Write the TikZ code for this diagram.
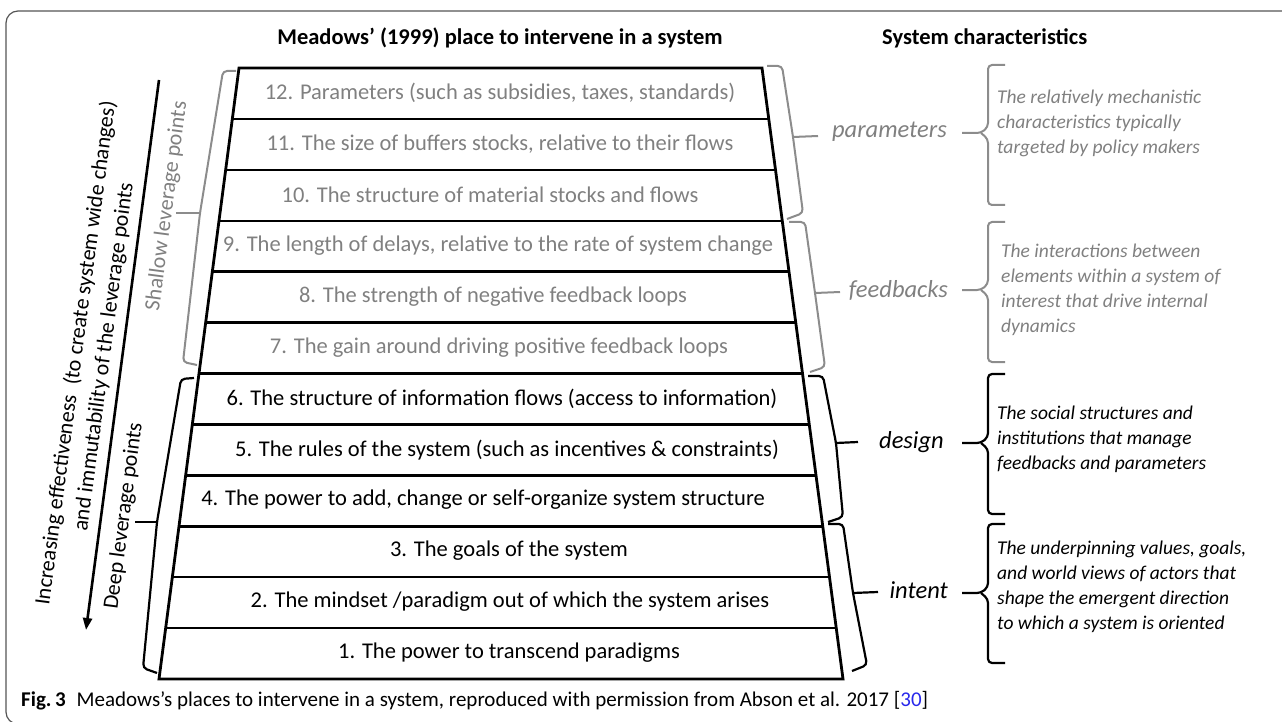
\documentclass[tikz,border=0pt]{standalone}
\usepackage{fontspec}
\setmainfont{Carlito}
\usetikzlibrary{arrows.meta}
\definecolor{lgray}{RGB}{128,128,128}
\definecolor{bgray}{RGB}{140,140,140}
\definecolor{framecol}{RGB}{85,85,85}
\definecolor{linkblue}{RGB}{40,40,235}
\tikzset{
  rowtxt/.style={font=\fontsize{22.5}{27}\selectfont, inner sep=0pt},
  rottxt/.style={font=\fontsize{22}{28}\selectfont, rotate=82.5, align=center, inner sep=0pt},
  labtxt/.style={font=\itshape\fontsize{24.5}{29}\selectfont, anchor=east, inner sep=0pt},
  desctxt/.style={font=\itshape\fontsize{19.5}{25}\selectfont, align=left, anchor=west, inner sep=0pt},
  headtxt/.style={font=\bfseries\fontsize{22.5}{26}\selectfont, inner sep=0pt},
  trap/.style={line width=2.8pt, line join=miter},
  sep/.style={line width=2.5pt},
  graybrace/.style={draw=bgray, line width=2pt, rounded corners=4pt},
  blackbrace/.style={draw=black, line width=2.2pt, rounded corners=4pt},
}
\begin{document}
\begin{tikzpicture}[x=1pt,y=-1pt]
\useasboundingbox (0,0) rectangle (1282,722);
\begin{scope}
\clip (0,0) rectangle (1282,722);
\draw[framecol, line width=1.2pt, rounded corners=12pt] (6,11) rectangle (1310,724);
\end{scope}

% headers
\node[headtxt] (h1) at (500,38) {Meadows’ (1999) place to intervene in a system};
\node[headtxt, anchor=west] (h2) at (882,38) {System characteristics};

% trapezoid
\draw[trap] (239,68) -- (762,68) -- (843,679) -- (159,679) -- cycle;
\foreach \k in {1,...,11}
  \draw[sep] (239-6.667*\k, 68+50.917*\k) -- (762+6.75*\k, 68+50.917*\k);

% row texts
\node[rowtxt, lgray] (r12) at (500, 93) {12. Parameters (such as subsidies, taxes, standards)};
\node[rowtxt, lgray] (r11) at (500,144) {11. The size of buffers stocks, relative to their flows};
\node[rowtxt, lgray] (r10) at (490,195) {10. The structure of material stocks and flows};
\node[rowtxt, lgray] (r9)  at (498,246) {9. The length of delays, relative to the rate of system change};
\node[rowtxt, lgray] (r8)  at (493,297) {8. The strength of negative feedback loops};
\node[rowtxt, lgray] (r7)  at (499,348) {7. The gain around driving positive feedback loops};
\node[rowtxt] (r6)  at (502,399) {6. The structure of information flows (access to information)};
\node[rowtxt] (r5)  at (507,450) {5. The rules of the system (such as incentives \& constraints)};
\node[rowtxt] (r4)  at (483,500) {4. The power to add, change or self-organize system structure};
\node[rowtxt] (r3)  at (509,551) {3. The goals of the system};
\node[rowtxt] (r2)  at (510,602) {2. The mindset /paradigm out of which the system arises};
\node[rowtxt] (r1)  at (509,653) {1. The power to transcend paradigms};

% left arrow and texts
\coordinate (atop) at (159,80);
\coordinate (abot) at (86,630);
\draw[line width=2.6pt, -{Triangle[length=12pt,width=9pt]}] (atop) -- (abot);
\node[rottxt] (inc) at (90,355) {Increasing effectiveness\ \ (to create system wide changes)\\and immutability of the leverage points};
\node[rottxt, lgray] (shallow) at (167,206) {Shallow leverage points};
\node[rottxt] (deep) at (124,516) {Deep leverage points};

% left braces
\draw[graybrace] (236,71) -- (223,71) -- (200,213) -- (183,362) -- (197,365);
\draw[graybrace] (200,213) -- (176,213);
\draw[blackbrace] (194,378) -- (181,379) -- (157,522) -- (143,668) -- (157,673);
\draw[blackbrace] (157,522) -- (135,522);

% right slanted braces
\draw[graybrace] (767,66) -- (782,66) -- (793,137) -- (803,213) -- (787,219);
\draw[graybrace] (793,137) -- (818,136);
\draw[graybrace] (789,222) -- (805,222) -- (815,293) -- (825,367) -- (810,372);
\draw[graybrace] (815,293) -- (840,292);
\draw[blackbrace] (808,376) -- (823,376) -- (836,443) -- (843,517) -- (828,522);
\draw[blackbrace] (836,443) -- (858,442);
\draw[blackbrace] (828,524) -- (843,524) -- (853,593) -- (867,665) -- (852,671);
\draw[blackbrace] (853,593) -- (878,592);

% labels
\node[labtxt, lgray] (lpar) at (947,132) {parameters};
\node[labtxt, lgray] (lfee) at (948,290) {feedbacks};
\node[labtxt] (ldes) at (944,442) {design};
\node[labtxt] (lint) at (948,590) {intent};

% right vertical braces
\draw[graybrace] (1005,65) -- (988,65) -- (988,127) -- (981,133) -- (962,133);
\draw[graybrace] (981,133) -- (988,139) -- (988,205) -- (1005,205);
\draw[graybrace] (1005,222) -- (988,222) -- (988,284) -- (981,290) -- (962,290);
\draw[graybrace] (981,290) -- (988,296) -- (988,362) -- (1005,362);
\draw[blackbrace] (1005,374) -- (988,374) -- (988,437) -- (981,443) -- (962,443);
\draw[blackbrace] (981,443) -- (988,449) -- (988,514) -- (1005,514);
\draw[blackbrace] (1005,524) -- (988,524) -- (988,587) -- (981,593) -- (962,593);
\draw[blackbrace] (981,593) -- (988,599) -- (988,663) -- (1005,663);

% descriptions
\node[desctxt, lgray] (dpar) at (997,123) {The relatively mechanistic\\characteristics typically\\targeted by policy makers};
\node[desctxt, lgray] (dfee) at (1001,289.5) {The interactions between\\elements within a system of\\interest that drive internal\\dynamics};
\node[desctxt] (ddes) at (997,439) {The social structures and\\institutions that manage\\feedbacks and parameters};
\node[desctxt] (dint) at (997,586.5) {The underpinning values, goals,\\and world views of actors that\\shape the emergent direction\\to which a system is oriented};

% caption
\node[anchor=base west, inner sep=0pt, font=\fontsize{21}{24}\selectfont] (cap) at (21,706) {\textbf{Fig.\,3}\hspace{11pt}Meadows’s places to intervene in a system, reproduced with permission from Abson et al. 2017 [\textcolor{linkblue}{30}]};
\end{tikzpicture}
\end{document}
